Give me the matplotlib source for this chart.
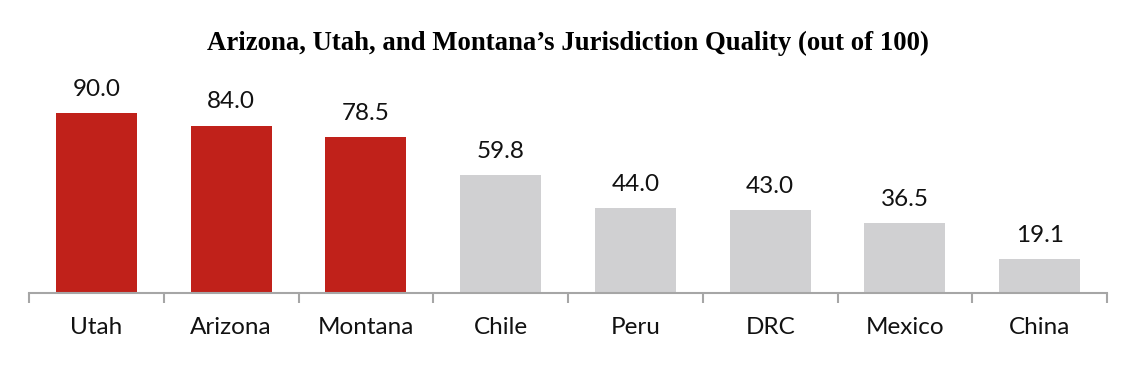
import matplotlib
matplotlib.use("Agg")
import matplotlib.pyplot as plt
import numpy as np

categories = ["Utah", "Arizona", "Montana", "Chile", "Peru", "DRC", "Mexico", "China"]
values = [90.0, 84.0, 78.5, 59.8, 44.0, 43.0, 36.5, 19.1]
highlight = [True, True, True, False, False, False, False, False]
title = "Arizona, Utah, and Montana\u2019s Jurisdiction Quality (out of 100)"

RED = "#C0211A"
GRAY = "#D0D0D2"
AXIS = "#A6A6A6"

fig = plt.figure(figsize=(11.36, 3.70), dpi=100)
ax = fig.add_axes([29/1136, 77/370, 1078/1136, 200/370])

x = np.arange(len(categories))
colors = [RED if h else GRAY for h in highlight]
ax.bar(x, values, width=0.6, color=colors, zorder=2)

ax.set_xlim(-0.5, len(categories) - 0.5)
ax.set_ylim(2.4, 2.4 + 200 / 2.052)

for xi, v in zip(x, values):
    ax.annotate(f"{v:.1f}", (xi, v), xytext=(0, 17), textcoords="offset points",
                ha="center", va="center", fontsize=17.5, family="Lato", color="#111111")

for s in ["top", "right", "left"]:
    ax.spines[s].set_visible(False)
ax.spines["bottom"].set_color(AXIS)
ax.spines["bottom"].set_linewidth(1.5)
ax.set_yticks([])

ax.set_xticks(np.arange(-0.5, len(categories)), minor=False)
ax.set_xticklabels([])
ax.tick_params(axis="x", which="major", length=7.5, width=1.5, color=AXIS, direction="out")
ax.set_xticks(x, minor=True)
ax.set_xticklabels(categories, minor=True, fontsize=17.5, family="Lato", color="#111111")
ax.tick_params(axis="x", which="minor", length=0, pad=17)

fig.text(0.5, 1 - 43/370, title, ha="center", va="center",
         fontsize=19.3, fontweight="bold", family="Liberation Serif")

fig.savefig("out.png", dpi=100, facecolor="white")
